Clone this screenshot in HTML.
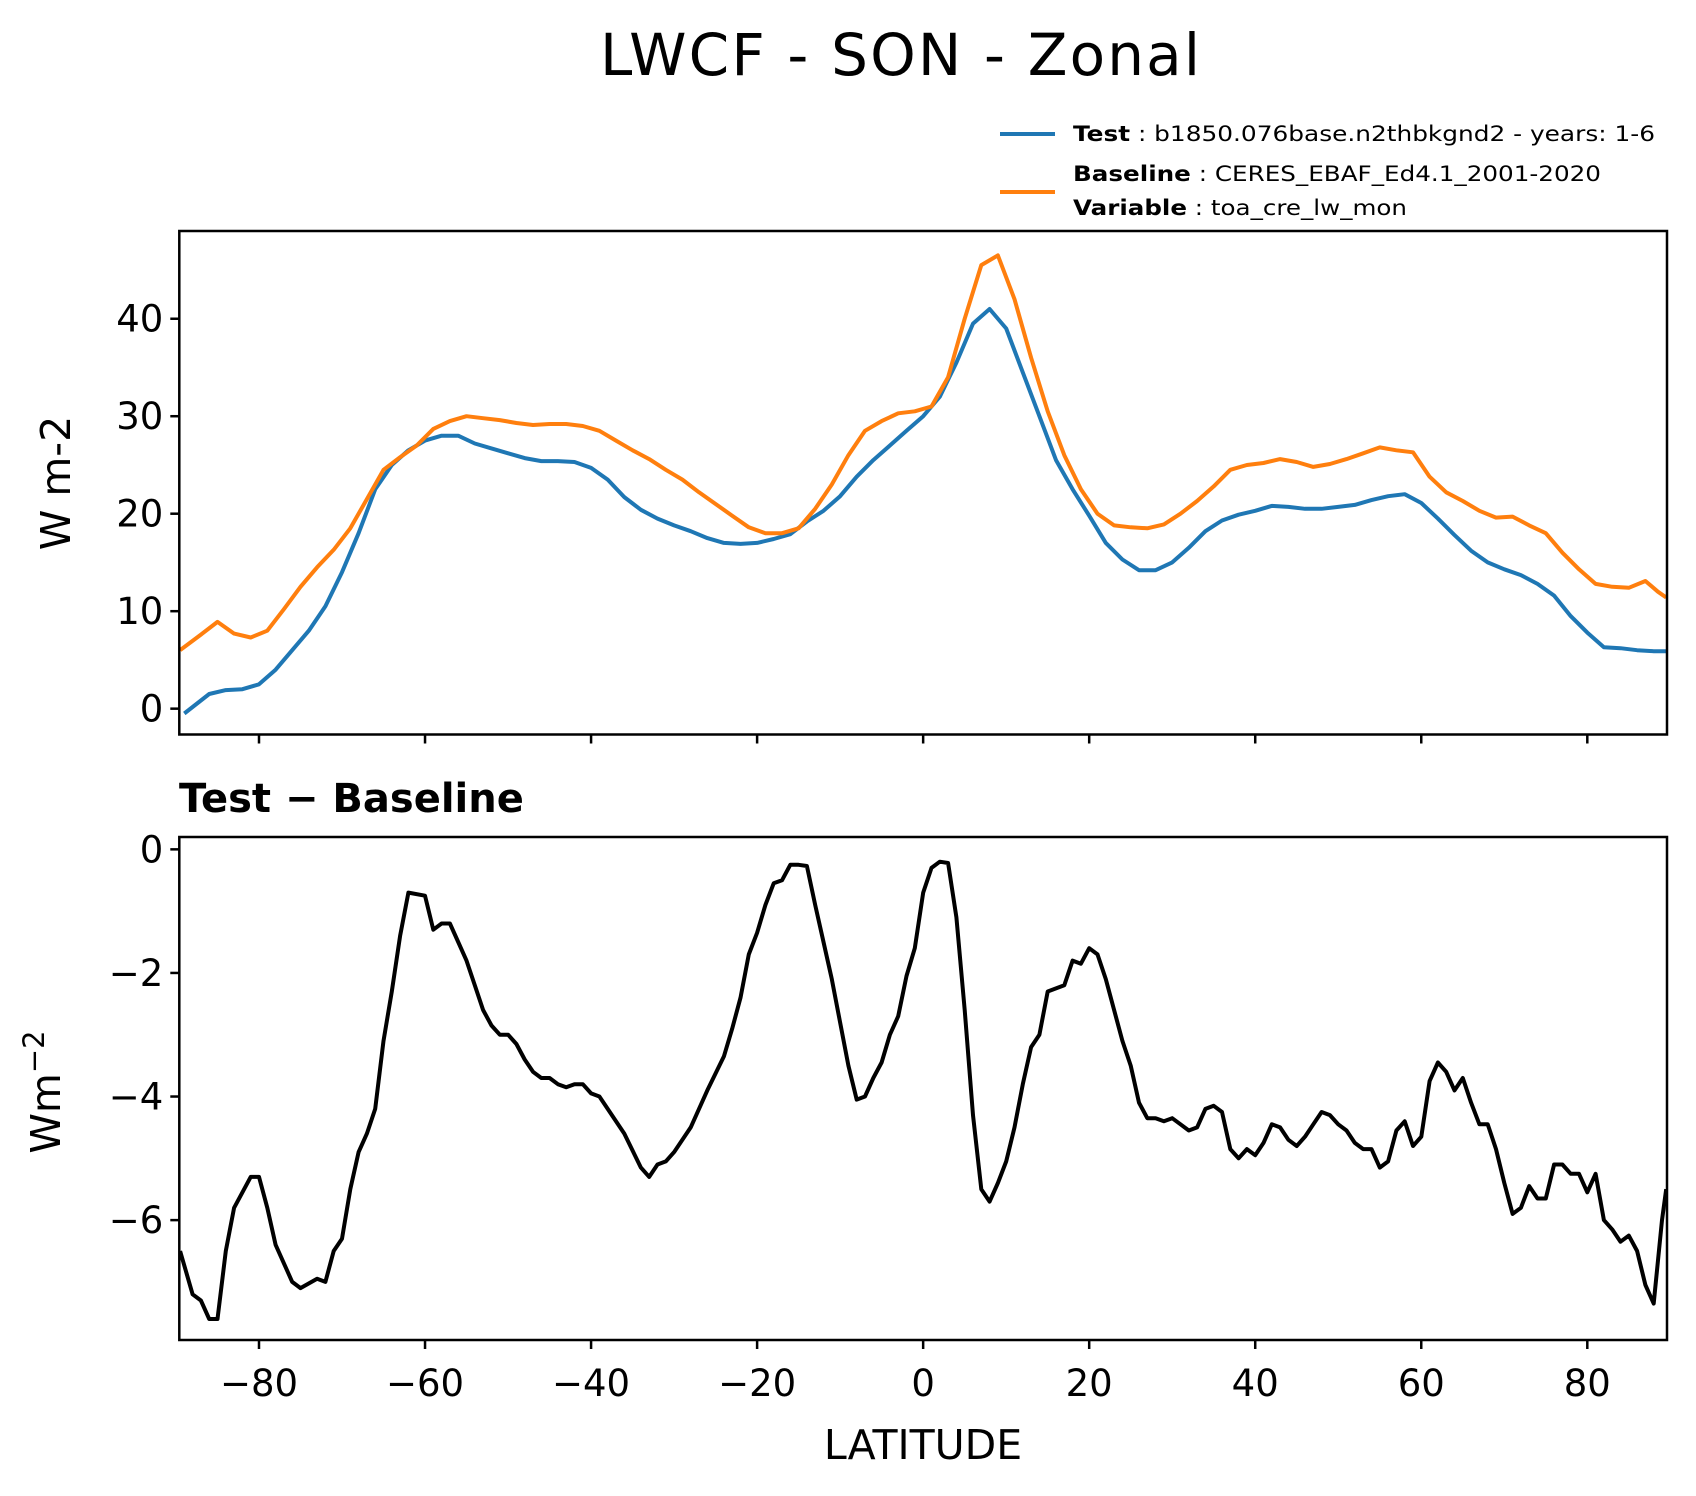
<!DOCTYPE html>
<html><head><meta charset="utf-8"><style>
html,body{margin:0;padding:0;background:#fff}
svg{display:block;font-family:"DejaVu Sans","Liberation Sans",sans-serif}
</style></head><body>
<svg id="fig" width="1696" height="1496" viewBox="0 0 1696 1496" xmlns="http://www.w3.org/2000/svg">
<rect width="1696" height="1496" fill="#fff"/>
<text x="900" y="75" font-size="58" text-anchor="middle" textLength="600">LWCF - SON - Zonal</text>
<g>
<line x1="1000" y1="134" x2="1055" y2="134" stroke="#1f77b4" stroke-width="4"/>
<text x="1073" y="141" font-size="21" textLength="582" lengthAdjust="spacingAndGlyphs"><tspan font-weight="bold">Test</tspan> : b1850.076base.n2thbkgnd2 - years: 1-6</text>
<line x1="1000" y1="192" x2="1055" y2="192" stroke="#ff7f0e" stroke-width="4"/>
<text x="1073" y="181" font-size="21" textLength="528" lengthAdjust="spacingAndGlyphs"><tspan font-weight="bold">Baseline</tspan> : CERES_EBAF_Ed4.1_2001-2020</text>
<text x="1073" y="215" font-size="21" textLength="334" lengthAdjust="spacingAndGlyphs"><tspan font-weight="bold">Variable</tspan> : toa_cre_lw_mon</text>
</g>
<g id="toppanel"></g>
<g id="botpanel"></g>
<text transform="translate(70,483) rotate(-90)" font-size="41" text-anchor="middle">W m-2</text>
<text x="179" y="812" font-size="40" font-weight="bold">Test − Baseline</text>
<text transform="translate(60,1092) rotate(-90)" font-size="41" text-anchor="middle">Wm<tspan font-size="29" dy="-16">−2</tspan></text>
<text x="923" y="1459" font-size="41" text-anchor="middle">LATITUDE</text>
</svg>
<script>
const testLat=[-89,-86,-84,-82,-80,-78,-76,-74,-72,-70,-68,-66,-64,-62,-60,-58,-56,-54,-52,-50,-48,-46,-44,-42,-40,-38,-36,-34,-32,-30,-28,-26,-24,-22,-20,-18,-16,-14,-12,-10,-8,-6,-4,-2,0,2,4,6,8,10,12,14,16,18,20,22,24,26,28,30,32,34,36,38,40,42,44,46,48,50,52,54,56,58,60,62,64,66,68,70,72,74,76,78,80,82,84,86,88,89.5];
const testVals=[-0.5,1.5,1.9,2.0,2.5,4,6,8,10.5,14,18,22.5,25,26.5,27.5,28,28,27.2,26.7,26.2,25.7,25.4,25.4,25.3,24.7,23.5,21.7,20.4,19.5,18.8,18.2,17.5,17,16.9,17,17.4,17.9,19.2,20.3,21.8,23.8,25.5,27,28.5,30,32,35.5,39.5,41,39,34.5,30,25.5,22.5,19.8,17,15.3,14.2,14.2,15,16.5,18.2,19.3,19.9,20.3,20.8,20.7,20.5,20.5,20.7,20.9,21.4,21.8,22,21.1,19.5,17.8,16.2,15,14.3,13.7,12.8,11.6,9.5,7.8,6.3,6.2,6.0,5.9,5.9];
const baseLat=[-89.5,-87,-85,-83,-81,-79,-77,-75,-73,-71,-69,-67,-65,-63,-61,-59,-57,-55,-53,-51,-49,-47,-45,-43,-41,-39,-37,-35,-33,-31,-29,-27,-25,-23,-21,-19,-17,-15,-13,-11,-9,-7,-5,-3,-1,1,3,5,7,9,11,13,15,17,19,21,23,25,27,29,31,33,35,37,39,41,43,45,47,49,51,53,55,57,59,61,63,65,67,69,71,73,75,77,79,81,83,85,87,88.5,89.5];
const baseVals=[6,7.6,8.9,7.7,7.3,8,10.2,12.5,14.5,16.3,18.5,21.5,24.5,25.8,27,28.7,29.5,30,29.8,29.6,29.3,29.1,29.2,29.2,29,28.5,27.5,26.5,25.6,24.5,23.5,22.2,21,19.8,18.6,18,18,18.5,20.5,23,26,28.5,29.5,30.3,30.5,31,34,40,45.5,46.5,42,36,30.5,26,22.5,20,18.8,18.6,18.5,18.9,20,21.3,22.8,24.5,25,25.2,25.6,25.3,24.8,25.1,25.6,26.2,26.8,26.5,26.3,23.8,22.2,21.3,20.3,19.6,19.7,18.8,18,16,14.3,12.8,12.5,12.4,13.1,12,11.4];
const diffLat=[-89.5,-88,-87,-86,-85,-84,-83,-81,-80,-79,-78,-76,-75,-73,-72,-71,-70,-69,-68,-67,-66,-65,-64,-63,-62,-60,-59,-58,-57,-56,-55,-54,-53,-52,-51,-50,-49,-48,-47,-46,-45,-44,-43,-42,-41,-40,-39,-38,-36,-34,-33,-32,-31,-30,-28,-26,-24,-23,-22,-21,-20,-19,-18,-17,-16,-15,-14,-13,-12,-11,-10,-9,-8,-7,-6,-5,-4,-3,-2,-1,0,1,2,3,4,5,6,7,8,9,10,11,12,13,14,15,16,17,18,19,20,21,22,23,24,25,26,27,28,29,30,31,32,33,34,35,36,37,38,39,40,41,42,43,44,45,46,47,48,49,50,51,52,53,54,55,56,57,58,59,60,61,62,63,64,65,66,67,68,69,70,71,72,73,74,75,76,77,78,79,80,81,82,83,84,85,86,87,88,89,89.5];
const diffVals=[-6.5,-7.2,-7.3,-7.6,-7.6,-6.5,-5.8,-5.3,-5.3,-5.8,-6.4,-7.0,-7.1,-6.95,-7.0,-6.5,-6.3,-5.5,-4.9,-4.6,-4.2,-3.1,-2.3,-1.4,-0.7,-0.75,-1.3,-1.2,-1.2,-1.5,-1.8,-2.2,-2.6,-2.85,-3.0,-3.0,-3.15,-3.4,-3.6,-3.7,-3.7,-3.8,-3.85,-3.8,-3.8,-3.95,-4.0,-4.2,-4.6,-5.15,-5.3,-5.1,-5.05,-4.9,-4.5,-3.9,-3.35,-2.9,-2.4,-1.7,-1.35,-0.9,-0.55,-0.5,-0.25,-0.25,-0.27,-0.9,-1.5,-2.1,-2.8,-3.5,-4.05,-4.0,-3.7,-3.45,-3.0,-2.7,-2.05,-1.6,-0.7,-0.3,-0.2,-0.22,-1.1,-2.6,-4.3,-5.5,-5.7,-5.4,-5.05,-4.5,-3.8,-3.2,-3.0,-2.3,-2.25,-2.2,-1.8,-1.85,-1.6,-1.7,-2.1,-2.6,-3.1,-3.5,-4.1,-4.35,-4.35,-4.4,-4.35,-4.45,-4.55,-4.5,-4.2,-4.15,-4.25,-4.85,-5.0,-4.85,-4.95,-4.75,-4.45,-4.5,-4.7,-4.8,-4.65,-4.45,-4.25,-4.3,-4.45,-4.55,-4.75,-4.85,-4.85,-5.15,-5.05,-4.55,-4.4,-4.8,-4.65,-3.75,-3.45,-3.6,-3.9,-3.7,-4.1,-4.45,-4.45,-4.85,-5.4,-5.9,-5.8,-5.45,-5.65,-5.65,-5.1,-5.1,-5.25,-5.25,-5.55,-5.25,-6.0,-6.15,-6.35,-6.25,-6.5,-7.05,-7.35,-6.0,-5.5];
const xTicks=[-80,-60,-40,-20,0,20,40,60,80];
const topYTicks=[0,10,20,30,40];
const botYTicks=[0,-2,-4,-6];

const NS='http://www.w3.org/2000/svg';
const X0=179.3,X1=1667,XMIN=-89.6,XMAX=89.6;
function xs(v){return X0+(v-XMIN)/(XMAX-XMIN)*(X1-X0);}
function mk(tag,attrs,parent){const e=document.createElementNS(NS,tag);for(const k in attrs)e.setAttribute(k,attrs[k]);parent.appendChild(e);return e;}
function fmt(v){return v<0?'\u2212'+Math.abs(v):String(v);}
function panel(g,Y0,Y1,ymin,ymax,yt,showX,name){
  const ys=v=>Y1-(v-ymin)/(ymax-ymin)*(Y1-Y0);
  yt.forEach(t=>{
    const l=mk('line',{x1:X0-9,x2:X0,y1:ys(t),y2:ys(t),stroke:'#000','stroke-width':2.5},g);
    
    
    const tx=mk('text',{x:X0-16,y:ys(t)+13,'font-size':37,'text-anchor':'end'},g);
    tx.textContent=fmt(t);
    
    
  });
  xTicks.forEach(t=>{
    const l=mk('line',{x1:xs(t),x2:xs(t),y1:Y1,y2:Y1+9,stroke:'#000','stroke-width':2.5},g);
    
    
    if(showX){
      const tx=mk('text',{x:xs(t),y:1396,'font-size':37,'text-anchor':'middle'},g);
      tx.textContent=fmt(t);
      
      
    }
  });
  return ys;
}
function drawLine(g,lat,vals,ys,color,name,Y0,Y1,cid){
  const cp=mk('clipPath',{id:cid},g);
  mk('rect',{x:X0,y:Y0,width:X1-X0,height:Y1-Y0},cp);
  const d=lat.map((v,i)=>(i?'L':'M')+xs(v).toFixed(1)+' '+ys(vals[i]).toFixed(1)).join(' ');
  const p=mk('path',{d:d,fill:'none',stroke:color,'stroke-width':4,'stroke-linejoin':'round','clip-path':'url(#'+cid+')'},g);
  
  
}
const gTop=document.getElementById('toppanel'),gBot=document.getElementById('botpanel');
const TY0=231,TY1=734.5;
const ysT=panel(gTop,TY0,TY1,-2.65,49,topYTicks,false,'top');
drawLine(gTop,testLat,testVals,ysT,'#1f77b4','test-line',TY0,TY1,'c1');
drawLine(gTop,baseLat,baseVals,ysT,'#ff7f0e','baseline-line',TY0,TY1,'c2');
const f1=mk('rect',{x:X0,y:TY0,width:X1-X0,height:TY1-TY0,fill:'none',stroke:'#000','stroke-width':2.5},gTop);


const BY0=837,BY1=1340;
const ysB=panel(gBot,BY0,BY1,-7.94,0.2,botYTicks,true,'bottom');
drawLine(gBot,diffLat,diffVals,ysB,'#000','difference-line',BY0,BY1,'c3');
const f2=mk('rect',{x:X0,y:BY0,width:X1-X0,height:BY1-BY0,fill:'none',stroke:'#000','stroke-width':2.5},gBot);


</script>
</body></html>
